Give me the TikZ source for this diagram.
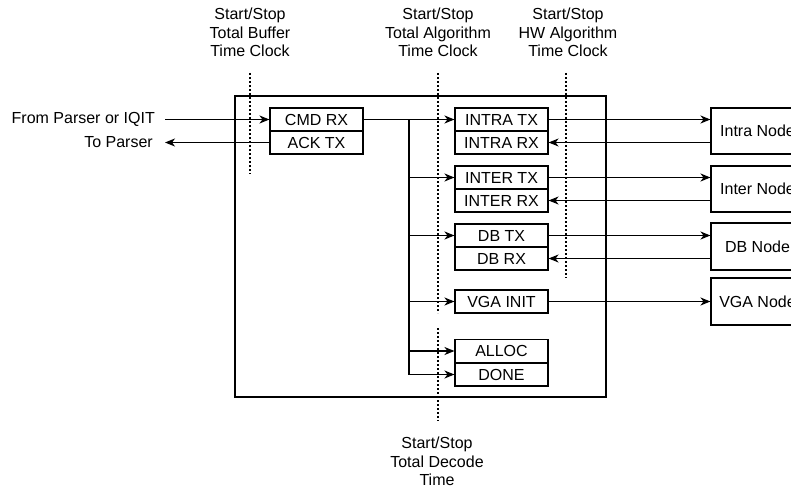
\documentclass[tikz,border=0pt]{standalone}
\usepackage{fontspec}
\setmainfont{Liberation Sans}
\usetikzlibrary{arrows.meta}
\begin{document}
\begin{tikzpicture}[x=1pt,y=-1pt,
  box/.style={draw, line width=1.1pt, minimum width=93pt, minimum height=23pt, inner sep=0pt, font=\fontsize{16}{18}\selectfont},
  nodebox/.style={box, minimum height=46pt},
  lbl/.style={align=center, font=\fontsize{16}{18.5}\selectfont, inner sep=0pt},
  arr/.style={-{Stealth[length=10pt,width=8pt,inset=3pt]}, line width=1.1pt},
  clk/.style={dash pattern=on 2pt off 2pt, line width=1.1pt}]
\useasboundingbox (0,0) rectangle (791,489);
\clip (0,0) rectangle (791,489);

% container
\node[draw, line width=1.1pt, minimum width=371pt, minimum height=301pt, inner sep=0pt] (main) at (420.5,246.5) {};

% left boxes
\node[box] (cmd) at (316.5,119.5) {CMD RX};
\node[box] (ack) at (316.5,142.5) {ACK TX};

% middle boxes
\node[box] (intratx) at (501.5,119.5) {INTRA TX};
\node[box] (intrarx) at (501.5,142.5) {INTRA RX};
\node[box] (intertx) at (501.5,177.5) {INTER TX};
\node[box] (interrx) at (501.5,200.5) {INTER RX};
\node[box] (dbtx) at (501.5,235.5) {DB TX};
\node[box] (dbrx) at (501.5,258.5) {DB RX};
\node[box] (vga) at (501.5,301.5) {VGA INIT};
\node[box] (alloc) at (501.5,351) {ALLOC};
\node[box] (done) at (501.5,374.5) {DONE};

% right nodes
\node[nodebox] (intran) at (757.5,131) {Intra Node};
\node[nodebox] (intern) at (757.5,189) {Inter Node};
\node[nodebox, minimum height=47pt] (dbn) at (757.5,246.5) {DB Node};
\node[nodebox, minimum height=47pt] (vgan) at (757.5,301.5) {VGA Node};

% left labels
\node[lbl, anchor=east] (from) at (155,119.5) {From Parser or IQIT};
\node[lbl, anchor=east] (to) at (153,142.5) {To Parser};
\coordinate (fromend) at (165,119.5);
\coordinate (toend) at (165,142.5);
\draw[arr] (fromend) -- (cmd.west);
\draw[arr] (ack.west) -- (toend);

% trunk
\coordinate (j) at (409,119.5);
\draw[arr] (cmd.east) -- (intratx.west);
\draw[arr] (j) |- (intertx.west);
\draw[arr] (j) |- (dbtx.west);
\draw[arr] (j) |- (vga.west);
\draw[arr] (j) |- (alloc.west);
\draw[arr] (j) |- (done.west);

% to/from right nodes
\draw[arr] (intratx.east) -- (intratx.east -| intran.west);
\draw[arr] (intrarx.east -| intran.west) -- (intrarx.east);
\draw[arr] (intertx.east) -- (intertx.east -| intern.west);
\draw[arr] (interrx.east -| intern.west) -- (interrx.east);
\draw[arr] (dbtx.east) -- (dbtx.east -| dbn.west);
\draw[arr] (dbrx.east -| dbn.west) -- (dbrx.east);
\draw[arr] (vga.east) -- (vgan.west);

% clock lines
\draw[clk] (250,73) -- (250,174);
\draw[clk] (438,73) -- (438,313);
\draw[clk] (438,328) -- (438,421);
\draw[clk] (566,73) -- (566,278);

% clock labels
\node[lbl] (c1) at (250,32.5) {Start/Stop\\Total Buffer\\Time Clock};
\node[lbl] (c2) at (438,32.5) {Start/Stop\\Total Algorithm\\Time Clock};
\node[lbl] (c3) at (568,32.5) {Start/Stop\\HW Algorithm\\Time Clock};
\node[lbl] (c4) at (437,461.5) {Start/Stop\\Total Decode\\Time};
\end{tikzpicture}
\end{document}
